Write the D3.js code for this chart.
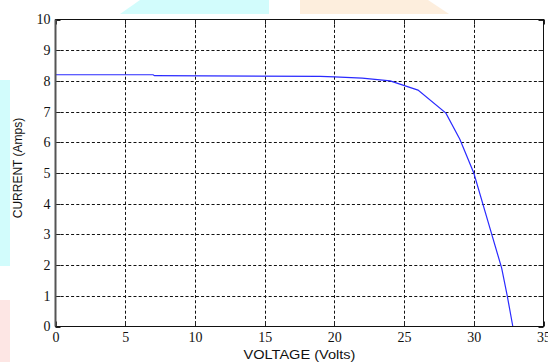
<!DOCTYPE html>
<html>
<head>
<meta charset="utf-8">
<script src="https://cdn.jsdelivr.net/npm/d3@7"></script>
<style>
  html, body { margin: 0; padding: 0; background: #fff; }
  svg { display: block; }
</style>
</head>
<body>
<svg id="chart" width="548" height="362"></svg>
<script>
// I-V characteristic of a PV module
const voltage = [0, 7, 7.1, 19, 20, 22, 24, 26, 28, 29, 30, 31, 32, 32.4, 32.8];
const current = [8.2, 8.2, 8.17, 8.15, 8.13, 8.09, 8.0, 7.7, 6.95, 6.1, 5.0, 3.45, 1.9, 1.0, 0];
const xTicks = [0, 5, 10, 15, 20, 25, 30, 35];
const yTicks = [0, 1, 2, 3, 4, 5, 6, 7, 8, 9, 10];
const xLabel = "VOLTAGE (Volts)";
const yLabel = "CURRENT (Amps)";

const svg = d3.select("#chart");
const L = 55.5, R = 543.5, T = 19.5, B = 326.5;

// decorative background tints
const deco = svg.append("g");
deco.append("path").attr("d", "M120,14 L140,0 L269,0 L269,14 Z").attr("fill", "#d2fcfc");
deco.append("path").attr("d", "M300,0 L428,0 L449,14 L300,14 Z").attr("fill", "#fdeedd");
deco.append("rect").attr("x", 0).attr("y", 80).attr("width", 10).attr("height", 186).attr("fill", "#d2fcfc");
deco.append("rect").attr("x", 0).attr("y", 300).attr("width", 10).attr("height", 62).attr("fill", "#fde6e4");

const x = d3.scaleLinear().domain([0, 35]).range([L, R]);
const y = d3.scaleLinear().domain([0, 10]).range([B, T]);

svg.append("rect").attr("x", L).attr("y", T).attr("width", R - L).attr("height", B - T).attr("fill", "#fff");

// grid
const grid = svg.append("g").attr("stroke", "#111").attr("stroke-width", 1).attr("stroke-dasharray", "3,2.2");
grid.selectAll(".gx").data(xTicks.slice(1, -1)).join("line")
  .attr("x1", d => Math.round(x(d)) + 0.5).attr("x2", d => Math.round(x(d)) + 0.5)
  .attr("y1", T).attr("y2", B);
grid.selectAll(".gy").data(yTicks.slice(1, -1)).join("line")
  .attr("y1", d => Math.round(y(d)) + 0.5).attr("y2", d => Math.round(y(d)) + 0.5)
  .attr("x1", L).attr("x2", R);

// inner tick marks on all four sides
const tk = svg.append("g").attr("stroke", "#222").attr("stroke-width", 1);
xTicks.forEach(d => {
  const px = Math.round(x(d)) + 0.5;
  tk.append("line").attr("x1", px).attr("x2", px).attr("y1", B).attr("y2", B - 5);
  tk.append("line").attr("x1", px).attr("x2", px).attr("y1", T).attr("y2", T + 5);
});
yTicks.forEach(d => {
  const py = Math.round(y(d)) + 0.5;
  tk.append("line").attr("y1", py).attr("y2", py).attr("x1", L).attr("x2", L + 5);
  tk.append("line").attr("y1", py).attr("y2", py).attr("x1", R).attr("x2", R - 5);
});

// curve
const line = d3.line().x((d, i) => x(voltage[i])).y(d => y(d));
svg.append("path").datum(current).attr("d", line)
  .attr("fill", "none").attr("stroke", "#2a2aff").attr("stroke-width", 1.2);

// frame
svg.append("rect").attr("x", L).attr("y", T).attr("width", R - L).attr("height", B - T)
  .attr("fill", "none").attr("stroke", "#111").attr("stroke-width", 1);
svg.append("line").attr("x1", L).attr("x2", L).attr("y1", T).attr("y2", B)
  .attr("stroke", "#555").attr("stroke-width", 2);

// tick labels via d3 axes (axis lines hidden)
const xAxis = svg.append("g").attr("transform", `translate(0,${B})`)
  .call(d3.axisBottom(x).tickValues(xTicks).tickSize(0).tickPadding(6));
const yAxis = svg.append("g").attr("transform", `translate(${L},0)`)
  .call(d3.axisLeft(y).tickValues(yTicks).tickSize(0).tickPadding(5));
[xAxis, yAxis].forEach(a => {
  a.select(".domain").remove();
  a.selectAll("text").attr("font-family", "'Liberation Serif', 'Times New Roman', serif")
    .attr("font-size", 14).attr("fill", "#111");
});
yAxis.selectAll("text").attr("dy", "0.32em");

// axis titles
svg.append("text").attr("transform", `translate(${(L + R) / 2},359) scale(1.12,1)`).attr("text-anchor", "middle")
  .attr("font-family", "'Liberation Sans', Arial, sans-serif").attr("font-size", 13).attr("fill", "#111")
  .text(xLabel);
svg.append("text").attr("transform", `translate(22,${(T + B) / 2 - 5}) rotate(-90)`).attr("text-anchor", "middle")
  .attr("font-family", "'Liberation Sans', Arial, sans-serif").attr("font-size", 12).attr("fill", "#111")
  .text(yLabel);
</script>
</body>
</html>
